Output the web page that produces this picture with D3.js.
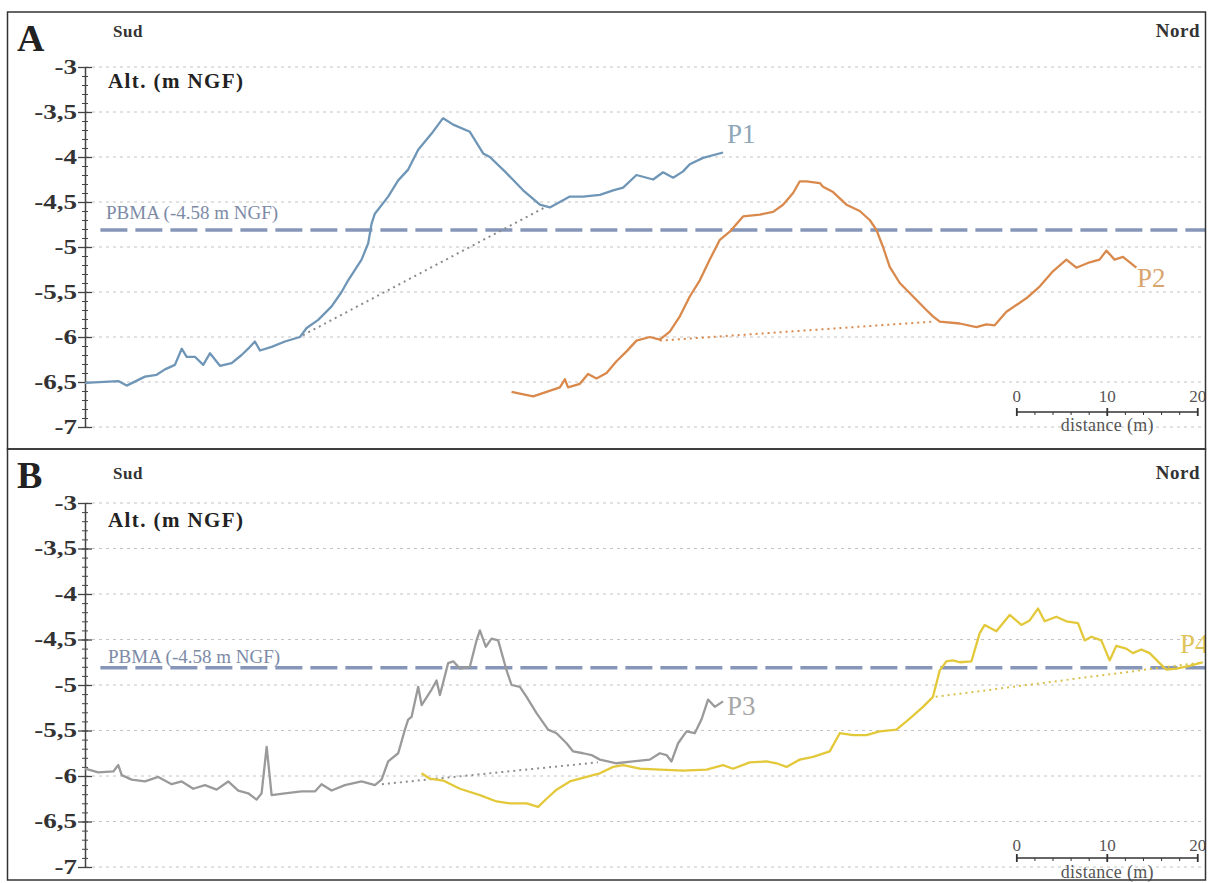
<!DOCTYPE html>
<html><head><meta charset="utf-8">
<script src="https://cdn.jsdelivr.net/npm/d3@7"></script>
<style>body{margin:0;background:#fff}svg{display:block}</style>
</head><body><svg id="c" width="1213" height="883"></svg>
<script>
// ---- data ----
const yTicks = [-3, -3.5, -4, -4.5, -5, -5.5, -6, -6.5, -7];
const pbmaLevel = -4.81;
const pbmaStart = 1.7;
const pbmaLabel = "PBMA (-4.58 m NGF)";
const scaleTicks = [0, 10, 20];
const scaleOrigin = 103;

const p1Dist = [0,3.68,4.61,6.63,7.92,8.84,9.94,10.69,11.24,12.15,13.07,13.81,14.92,16.21,17.31,18.04,18.78,19.34,20.63,22.1,23.76,24.5,25.78,27.26,28.36,29.09,30.57,31.3,31.68,32.04,33.51,34.62,35.72,36.83,38.31,39.41,39.59,40.7,42.54,44.01,44.75,46.6,48.43,50.28,51.38,52.49,53.59,55.06,56.91,58.38,59.48,60.96,62.8,63.9,65.01,66.11,66.85,68.32,70.53];
const p1Alt = [-6.51,-6.49,-6.54,-6.44,-6.42,-6.36,-6.31,-6.13,-6.22,-6.22,-6.31,-6.18,-6.32,-6.29,-6.2,-6.13,-6.05,-6.15,-6.11,-6.05,-6.0,-5.9,-5.81,-5.66,-5.5,-5.37,-5.14,-4.96,-4.74,-4.63,-4.44,-4.26,-4.14,-3.92,-3.74,-3.59,-3.57,-3.64,-3.72,-3.96,-4.0,-4.18,-4.37,-4.53,-4.56,-4.5,-4.44,-4.44,-4.42,-4.37,-4.34,-4.2,-4.25,-4.17,-4.23,-4.16,-4.08,-4.01,-3.95];
const p1BaseDist = [24.09, 50.83];
const p1BaseAlt = [-5.98, -4.56];

const p2Dist = [47.15,48.07,49.54,51.02,52.49,53.04,53.4,54.7,55.61,56.54,57.65,58.75,59.86,60.96,62.43,63.54,64.64,65.75,66.85,67.96,69.06,70.17,71.27,72.74,74.59,76.06,77.16,78.27,79.01,79.74,81.22,81.58,82.69,84.17,85.64,86.74,87.48,88.21,88.95,90.06,91.53,93.0,93.73,94.48,96.69,98.53,99.64,100.55,101.85,104.05,105.52,106.99,108.48,109.58,111.05,112.15,112.9,113.81,114.73,116.21];
const p2Alt = [-6.61,-6.63,-6.66,-6.61,-6.56,-6.47,-6.56,-6.52,-6.41,-6.46,-6.4,-6.27,-6.16,-6.04,-6.0,-6.03,-5.94,-5.77,-5.55,-5.37,-5.14,-4.92,-4.83,-4.66,-4.64,-4.61,-4.53,-4.4,-4.27,-4.27,-4.29,-4.33,-4.39,-4.53,-4.6,-4.7,-4.81,-5.0,-5.22,-5.4,-5.55,-5.7,-5.77,-5.83,-5.85,-5.89,-5.86,-5.87,-5.72,-5.57,-5.44,-5.27,-5.14,-5.23,-5.17,-5.14,-5.04,-5.14,-5.11,-5.23];
const p2BaseDist = [63.54, 93.59];
const p2BaseAlt = [-6.04, -5.83];

const p3Dist = [0,1.47,3.13,3.68,4.06,5.16,6.63,8.1,9.58,10.69,11.97,13.26,14.55,15.83,16.94,18.04,18.97,19.52,20.08,20.63,22.1,23.94,25.41,26.15,27.26,28.73,30.57,32.04,32.78,33.51,34.62,35.36,35.72,36.1,36.83,37.21,38.31,38.86,39.23,40.14,40.7,41.44,42.54,43.28,43.65,44.31,44.94,45.67,46.6,47.15,48.07,48.81,49.91,51.19,52.12,53.23,53.96,55.06,55.99,56.91,58.75,60.59,62.43,63.54,64.28,64.83,65.56,66.49,67.4,68.14,68.87,69.61,70.53];
const p3Alt = [-5.92,-5.96,-5.95,-5.88,-5.99,-6.04,-6.06,-6.01,-6.09,-6.06,-6.14,-6.1,-6.15,-6.06,-6.16,-6.19,-6.26,-6.19,-5.68,-6.21,-6.19,-6.17,-6.17,-6.09,-6.16,-6.1,-6.06,-6.1,-6.04,-5.84,-5.75,-5.49,-5.38,-5.35,-5.02,-5.22,-5.05,-4.95,-5.11,-4.76,-4.74,-4.82,-4.8,-4.51,-4.4,-4.58,-4.49,-4.51,-4.84,-5.0,-5.02,-5.13,-5.31,-5.49,-5.53,-5.64,-5.73,-5.75,-5.77,-5.82,-5.86,-5.84,-5.82,-5.75,-5.77,-5.84,-5.64,-5.51,-5.53,-5.38,-5.16,-5.24,-5.18];
const p3BaseDist = [32.82, 56.69];
const p3BaseAlt = [-6.09, -5.85];

const p4Dist = [37.2,38.12,39.59,41.44,43.65,45.49,46.96,48.81,50.09,51.02,52.12,53.59,55.44,56.91,58.38,59.48,61.33,63.54,66.11,68.7,70.53,71.63,73.48,75.33,76.43,77.54,79.01,80.48,82.32,83.43,84.9,86.38,87.85,89.69,91.16,92.63,93.73,94.48,95.21,95.94,96.69,97.98,98.9,99.45,100.74,102.21,103.5,104.42,105.34,106.08,107.36,108.47,109.76,110.5,111.24,112.34,113.26,113.99,115.1,115.83,116.76,117.68,118.78,119.52,120.63,122.1,123.57];
const p4Alt = [-5.97,-6.03,-6.05,-6.14,-6.21,-6.28,-6.3,-6.3,-6.34,-6.25,-6.15,-6.06,-6.01,-5.97,-5.9,-5.88,-5.92,-5.93,-5.94,-5.93,-5.88,-5.92,-5.85,-5.84,-5.86,-5.9,-5.82,-5.79,-5.73,-5.53,-5.55,-5.55,-5.51,-5.49,-5.37,-5.24,-5.13,-4.84,-4.74,-4.73,-4.75,-4.74,-4.43,-4.34,-4.41,-4.23,-4.34,-4.29,-4.16,-4.3,-4.25,-4.3,-4.32,-4.51,-4.47,-4.51,-4.73,-4.57,-4.6,-4.65,-4.61,-4.65,-4.76,-4.83,-4.82,-4.79,-4.75];
const p4BaseDist = [94.03, 123.54];
const p4BaseAlt = [-5.13, -4.75];

// ---- drawing ----
const svg = d3.select("#c");
svg.append("rect").attr("width",1213).attr("height",883).attr("fill","#fff");
const serif = "'Liberation Serif','DejaVu Serif',serif";
const x = d3.scaleLinear().domain([0, 123.8]).range([85, 1205]);

const panels = [
  {letter:"A", top:12, bottom:449, y0:67, y1:427, letterY:51, sudY:37, altY:88, pbmaTextY:219, scaleLabY:402, scaleBarY:412, distY:431,
   profiles:[
     {d:p1Dist,a:p1Alt,bd:p1BaseDist,ba:p1BaseAlt,color:"#6f96b7",base:"#8a8a8a",name:"P1",lx:727,ly:143,lc:"#8ea7b8"},
     {d:p2Dist,a:p2Alt,bd:p2BaseDist,ba:p2BaseAlt,color:"#d9894c",base:"#d9894c",name:"P2",lx:1137,ly:287,lc:"#d9a56e"}]},
  {letter:"B", top:449, bottom:880, y0:503, y1:867, letterY:488, sudY:479, altY:527, pbmaTextY:663, scaleLabY:851, scaleBarY:858, distY:878,
   profiles:[
     {d:p3Dist,a:p3Alt,bd:p3BaseDist,ba:p3BaseAlt,color:"#9a9a9a",base:"#8f8f8f",name:"P3",lx:727,ly:715,lc:"#a8a8a8"},
     {d:p4Dist,a:p4Alt,bd:p4BaseDist,ba:p4BaseAlt,color:"#e3c83a",base:"#d8c14c",name:"P4",lx:1180,ly:653,lc:"#e0c45a"}]}
];

svg.append("defs").append("clipPath").attr("id","clipAll")
  .append("rect").attr("x",8).attr("y",0).attr("width",1198).attr("height",883);

const sx = 1.35;
panels.forEach((p,i) => {
  const g = svg.append("g").attr("clip-path","url(#clipAll)");
  const y = d3.scaleLinear().domain([-3,-7]).range([p.y0,p.y1]);

  // grid
  g.append("g").selectAll("line").data(yTicks).join("line")
    .attr("x1",x(0)).attr("x2",x(123.8)).attr("y1",d=>y(d)).attr("y2",d=>y(d))
    .attr("stroke","#c4c4c4").attr("stroke-width",1).attr("stroke-dasharray","3,4");

  // y axis minor
  const minor = d3.range(-7, -2.95, 0.1).map(v=>+v.toFixed(1));
  const gm = g.append("g").attr("transform",`translate(${x(0)},0)`)
    .call(d3.axisLeft(y).tickValues(minor).tickSize(3).tickFormat(""));
  gm.select(".domain").remove();
  gm.selectAll(".tick line").attr("x1",3).attr("stroke","#444");

  const ga = g.append("g").attr("transform",`translate(${x(0)},0)`)
    .call(d3.axisLeft(y).tickValues(yTicks).tickSizeInner(7).tickSizeOuter(0).tickPadding(0)
      .tickFormat(d=>String(d).replace(".",",")));
  ga.select(".domain").attr("stroke","#444").attr("stroke-width",1.5);
  ga.selectAll(".tick line").attr("x1",7).attr("stroke","#444").attr("stroke-width",1.3);
  ga.selectAll(".tick text").attr("font-family",serif).attr("font-weight","bold")
    .attr("font-size",20).attr("fill","#333")
    .attr("x",-8/sx).attr("transform",`scale(${sx},1)`);

  // PBMA
  g.append("line").attr("x1",x(pbmaStart)).attr("x2",x(123.8))
    .attr("y1",y(pbmaLevel)).attr("y2",y(pbmaLevel))
    .attr("stroke","#8696b8").attr("stroke-width",3.5).attr("stroke-dasharray","27,8");
  g.append("text").attr("x",i===0?106:108).attr("y",p.pbmaTextY).text(pbmaLabel)
    .attr("font-family",serif).attr("font-size",19).attr("fill","#7d8aa6");

  // profiles
  const line = d3.line().x(d=>x(d[0])).y(d=>y(d[1]));
  p.profiles.forEach(pr => {
    g.append("path").datum(pr.bd.map((d,k)=>[d,pr.ba[k]])).attr("d",line)
      .attr("fill","none").attr("stroke",pr.base).attr("stroke-width",2).attr("stroke-dasharray","2,4");
    g.append("path").datum(pr.d.map((d,k)=>[d,pr.a[k]])).attr("d",line)
      .attr("fill","none").attr("stroke",pr.color).attr("stroke-width",2.3).attr("stroke-linejoin","round");
    g.append("text").attr("x",pr.lx).attr("y",pr.ly).text(pr.name)
      .attr("font-family",serif).attr("font-size",27).attr("fill",pr.lc);
  });

  // labels
  g.append("text").attr("x",17).attr("y",p.letterY).text(p.letter)
    .attr("font-family",serif).attr("font-weight","bold").attr("font-size",38).attr("fill","#222");
  g.append("text").attr("x",113).attr("y",p.sudY).text("Sud")
    .attr("font-family",serif).attr("font-weight","bold").attr("font-size",17).attr("letter-spacing",0.5).attr("fill","#333");
  g.append("text").attr("x",1200).attr("y",p.sudY).attr("text-anchor","end").text("Nord")
    .attr("font-family",serif).attr("font-weight","bold").attr("font-size",19).attr("letter-spacing",0.5).attr("fill","#333");
  g.append("text").attr("x",108).attr("y",p.altY).text("Alt. (m NGF)")
    .attr("font-family",serif).attr("font-weight","bold").attr("font-size",21).attr("letter-spacing",1.4).attr("fill","#222");

  // scale bar
  const sb = g.append("g");
  sb.append("line").attr("x1",x(scaleOrigin)).attr("x2",x(scaleOrigin+20))
    .attr("y1",p.scaleBarY).attr("y2",p.scaleBarY).attr("stroke","#333").attr("stroke-width",1.5);
  sb.selectAll("line.mn").data(d3.range(2,20,2)).join("line").attr("class","mn")
    .attr("x1",d=>x(scaleOrigin+d)).attr("x2",d=>x(scaleOrigin+d))
    .attr("y1",p.scaleBarY).attr("y2",p.scaleBarY+3).attr("stroke","#333");
  sb.selectAll("line.mj").data(scaleTicks).join("line").attr("class","mj")
    .attr("x1",d=>x(scaleOrigin+d)).attr("x2",d=>x(scaleOrigin+d))
    .attr("y1",p.scaleBarY-4).attr("y2",p.scaleBarY+4).attr("stroke","#333").attr("stroke-width",1.8);
  sb.selectAll("text.sl").data(scaleTicks).join("text").attr("class","sl")
    .attr("x",d=>x(scaleOrigin+d)).attr("y",p.scaleLabY).attr("text-anchor","middle").text(d=>d)
    .attr("font-family",serif).attr("font-size",17).attr("fill","#555");
  sb.append("text").attr("x",x(scaleOrigin+10)).attr("y",p.distY).attr("text-anchor","middle")
    .text("distance (m)").attr("font-family",serif).attr("font-size",18).attr("letter-spacing",0.3).attr("fill","#555");

  // panel frame
  svg.append("rect").attr("x",7.5).attr("y",p.top).attr("width",1198).attr("height",p.bottom-p.top)
    .attr("fill","none").attr("stroke","#333").attr("stroke-width",1.5);
});
</script></body></html>
